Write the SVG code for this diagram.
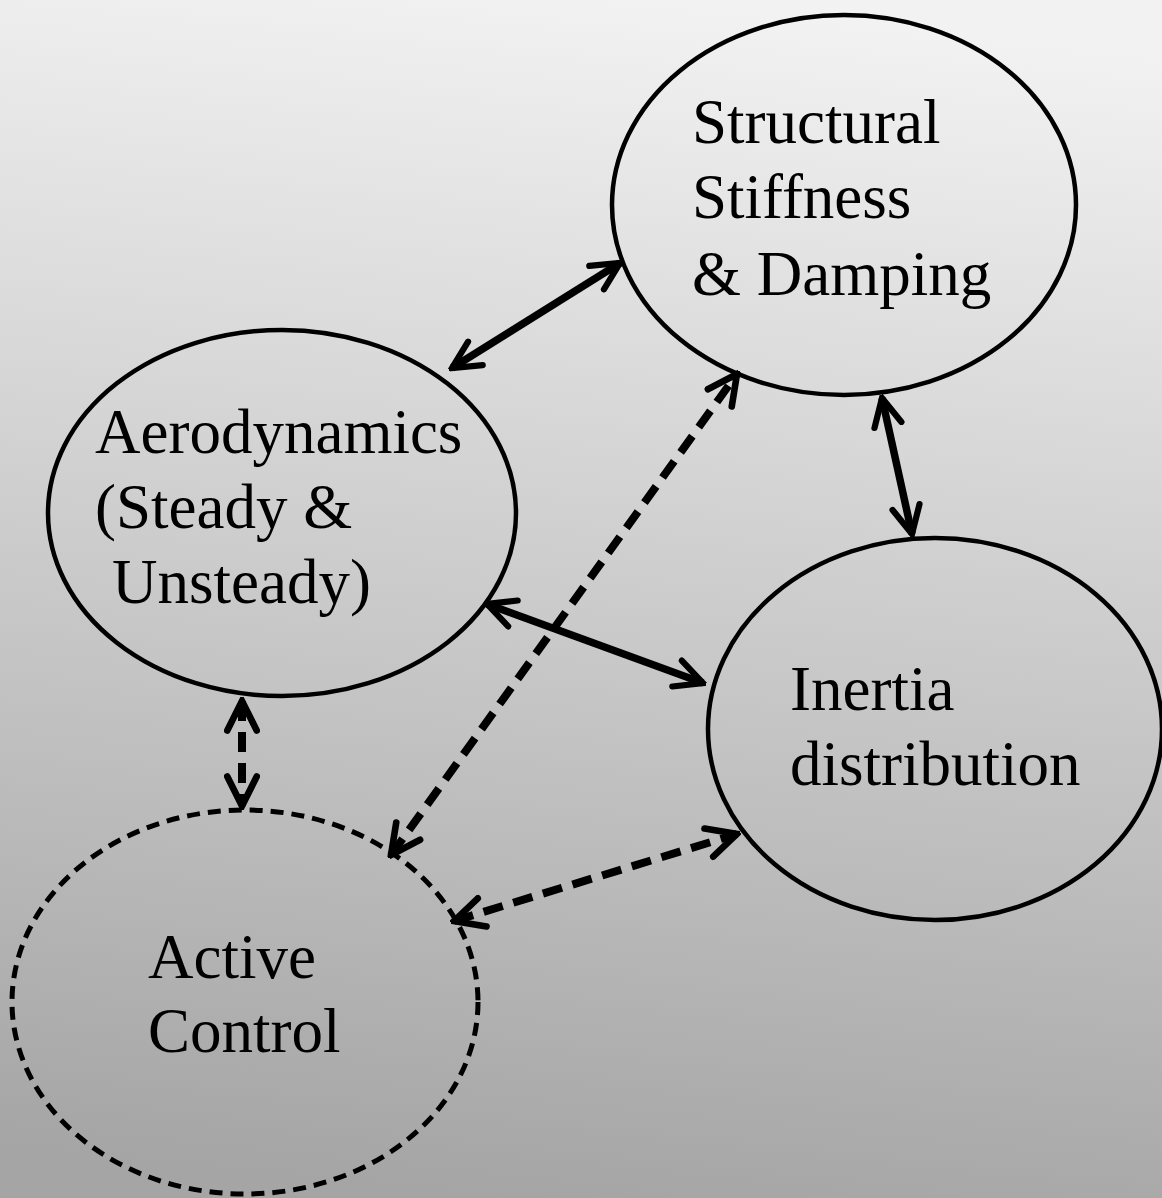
<svg xmlns="http://www.w3.org/2000/svg" width="1162" height="1198" viewBox="0 0 1162 1198">
<defs>
<linearGradient id="bg" x1="0.55" y1="0" x2="0.45" y2="1">
<stop offset="0" stop-color="#f2f2f2"/>
<stop offset="1" stop-color="#a5a5a5"/>
</linearGradient>
<marker id="ah" viewBox="0 0 10 10" refX="9" refY="5" markerWidth="4.6" markerHeight="4.6" orient="auto-start-reverse" markerUnits="strokeWidth">
<path d="M1,1 L9,5 L1,9" fill="none" stroke="#000" stroke-width="1.8" stroke-linecap="round" stroke-linejoin="miter"/>
</marker>
</defs>
<style>
.node{fill:none;stroke:#000;stroke-width:4.5}
.dnode{fill:none;stroke:#000;stroke-width:5;stroke-dasharray:13 8}
.lbl{font-family:"Liberation Serif","Times New Roman",serif;font-size:63px;fill:#000}
.c{fill:none;stroke:#000;stroke-width:7.5;marker-start:url(#ah);marker-end:url(#ah)}
.cd{stroke-width:8;stroke-dasharray:20 11}
</style>
<rect width="1162" height="1198" fill="url(#bg)"/>
<g id="structural">
<ellipse class="node" cx="844" cy="205" rx="232" ry="190"/>
<text class="lbl" x="692" y="143">Structural</text>
<text class="lbl" x="692" y="218">Stiffness</text>
<text class="lbl" x="692" y="295">&amp; Damping</text>
</g>
<g id="aerodynamics">
<ellipse class="node" cx="282" cy="513" rx="234" ry="183"/>
<text class="lbl" x="95" y="453">Aerodynamics</text>
<text class="lbl" x="95" y="528">(Steady &amp;</text>
<text class="lbl" x="112" y="603">Unsteady)</text>
</g>
<g id="inertia">
<ellipse class="node" cx="935" cy="729" rx="227" ry="191"/>
<text class="lbl" x="790" y="710">Inertia</text>
<text class="lbl" x="790" y="785">distribution</text>
</g>
<g id="active">
<ellipse class="dnode" cx="245" cy="1002" rx="233" ry="192"/>
<text class="lbl" x="148" y="978">Active</text>
<text class="lbl" x="148" y="1052">Control</text>
</g>
<g id="connectors">
<line class="c" x1="452" y1="368" x2="620" y2="263"/>
<line class="c" x1="882" y1="398" x2="912" y2="534"/>
<line class="c" x1="487" y1="604" x2="703" y2="683"/>
<line class="c cd" x1="242" y1="701" x2="242" y2="806"/>
<line class="c cd" x1="391" y1="855" x2="737" y2="374"/>
<line class="c cd" x1="454" y1="921" x2="737" y2="834"/>
</g>
</svg>
